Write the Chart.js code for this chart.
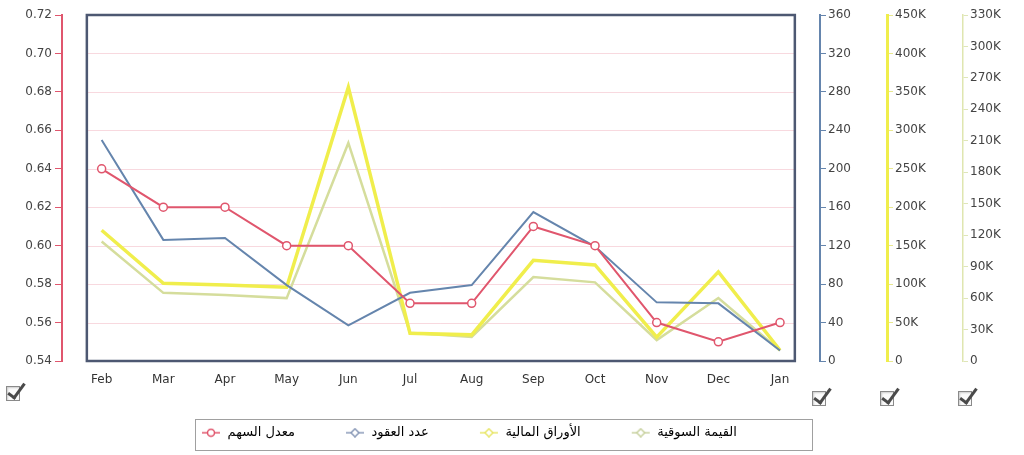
<!DOCTYPE html>
<html lang="ar">
<head>
    <meta charset="UTF-8">
    <title>Stock chart</title>
    <script src="https://cdn.jsdelivr.net/npm/chart.js"></script>
    <style>
        html, body { margin: 0; padding: 0; background: #fff; }
        .wrap { position: relative; width: 1024px; height: 455px; }
        .cb {
            position: absolute; width: 12px; height: 13px;
            border: 1px solid #8a8a8a; background: #fbfbfb;
            box-shadow: inset 1px 1px 2px #ccc;
        }
        .cb::after {
            content: ''; position: absolute; left: 5px; top: -7px;
            width: 6px; height: 16px;
            border-right: 3px solid #4a4a4a; border-bottom: 3px solid #4a4a4a;
            transform: rotate(36deg);
        }
    </style>
</head>
<body>
<div class="wrap">
    <canvas id="chart" width="1024" height="455"></canvas>
    <div class="cb" style="left:6px;top:386px"></div>
    <div class="cb" style="left:812px;top:391px"></div>
    <div class="cb" style="left:880px;top:391px"></div>
    <div class="cb" style="left:958px;top:391px"></div>
</div>
<script>
// data
const months = ['Feb', 'Mar', 'Apr', 'May', 'Jun', 'Jul', 'Aug', 'Sep', 'Oct', 'Nov', 'Dec', 'Jan'];
const shareRate = [0.64, 0.62, 0.62, 0.60, 0.60, 0.57, 0.57, 0.61, 0.60, 0.56, 0.55, 0.56];
const contracts = [230, 126, 128, 79, 37, 71, 79, 155, 119, 61, 60, 11];
const securities = [170000, 101000, 99000, 96000, 356000, 36000, 34000, 131000, 125000, 31000, 116000, 14000];
const marketValue = [114000, 65000, 63000, 60000, 208000, 27000, 23000, 80000, 75000, 20000, 60000, 10000];
const seriesNames = ['معدل السهم', 'عدد العقود', 'الأوراق المالية', 'القيمة السوقية'];

const RED = '#e0566d';
const BLUE = '#6585ad';
const YELLOW = '#f0ee4c';
const PALE = '#d5dd9c';
const FONT = { family: '"DejaVu Sans", sans-serif', size: 12 };
const LEGEND_FONT = { family: '"DejaVu Sans", sans-serif', size: 13 };
const LEGEND_GAP = 50;

function toPoints(arr) {
    return arr.map((v, i) => ({ x: i, y: v }));
}

// small legend marker: a short line with a point on it
function marker(color, shape) {
    const c = document.createElement('canvas');
    c.width = 20; c.height = 10;
    const g = c.getContext('2d');
    g.strokeStyle = color; g.lineWidth = 1.5;
    g.beginPath(); g.moveTo(1, 5); g.lineTo(19, 5); g.stroke();
    g.fillStyle = '#fff';
    g.beginPath();
    if (shape === 'circle') {
        g.arc(10, 5, 3.5, 0, Math.PI * 2);
    } else {
        g.moveTo(10, 1); g.lineTo(14, 5); g.lineTo(10, 9); g.lineTo(6, 5); g.closePath();
    }
    g.fill(); g.stroke();
    return c;
}
const markers = [marker(RED, 'circle'), marker('#8a9ab8', 'diamond'), marker('#e8e66a', 'diamond'), marker('#c9d2a0', 'diamond')];

function fixWidth(w) {
    return scale => { scale.width = w; };
}

const framePlugin = {
    id: 'frame',
    beforeInit(chart) {
        const fit = chart.legend.fit;
        chart.legend.fit = function () {
            fit.bind(chart.legend)();
            this.height = 64;
        };
    },
    afterLayout(chart) {
        // put the legend row in its framed box
        chart.legend.top = 434 - LEGEND_FONT.size * 0.6 - LEGEND_GAP;
        chart.legend.left = 201 - LEGEND_GAP;
    },
    beforeDraw(chart) {
        const ctx = chart.ctx;
        ctx.save();
        ctx.fillStyle = '#fff';
        ctx.fillRect(195, 419, 617, 31);
        ctx.strokeStyle = '#a0a0a0';
        ctx.lineWidth = 1;
        ctx.strokeRect(195.5, 419.5, 617, 31);
        ctx.restore();
    },
    beforeDatasetsDraw(chart) {
        const { ctx, chartArea, scales } = chart;
        const left = scales.x.getPixelForValue(-0.24);
        const right = scales.x.getPixelForValue(11.24);
        ctx.save();
        ctx.strokeStyle = 'rgba(240, 170, 185, 0.45)';
        ctx.lineWidth = 1;
        scales.yRate.ticks.forEach(t => {
            const y = Math.round(scales.yRate.getPixelForValue(t.value)) + 0.5;
            ctx.beginPath(); ctx.moveTo(left, y); ctx.lineTo(right, y); ctx.stroke();
        });
        ctx.strokeStyle = '#4d5872';
        ctx.lineWidth = 2.5;
        ctx.strokeRect(left, chartArea.top, right - left, chartArea.bottom - chartArea.top);
        ctx.restore();
    }
};

new Chart(document.getElementById('chart'), {
    type: 'line',
    data: {
        datasets: [
            {
                label: seriesNames[0], data: toPoints(shareRate), yAxisID: 'yRate',
                borderColor: RED, borderWidth: 2, pointRadius: 4, pointBorderWidth: 1.5,
                pointBackgroundColor: '#fff', pointBorderColor: RED, pointStyle: 'circle'
            },
            {
                label: seriesNames[1], data: toPoints(contracts), yAxisID: 'yCount',
                borderColor: BLUE, borderWidth: 2, pointRadius: 0
            },
            {
                label: seriesNames[2], data: toPoints(securities), yAxisID: 'ySec',
                borderColor: YELLOW, borderWidth: 3.5, pointRadius: 0
            },
            {
                label: seriesNames[3], data: toPoints(marketValue), yAxisID: 'yMkt',
                borderColor: PALE, borderWidth: 2.5, pointRadius: 0
            }
        ]
    },
    options: {
        responsive: false,
        animation: false,
        tension: 0,
        layout: { padding: { top: 15, bottom: 0, left: 0, right: 0 } },
        plugins: {
            tooltip: { enabled: false },
            legend: {
                position: 'bottom',
                align: 'start',
                labels: {
                    usePointStyle: true,
                    pointStyleWidth: 20,
                    padding: LEGEND_GAP,
                    color: '#333',
                    font: LEGEND_FONT,
                    generateLabels(chart) {
                        return chart.data.datasets.map((ds, i) => ({
                            text: ds.label, pointStyle: markers[i], datasetIndex: i,
                            fillStyle: '#fff', strokeStyle: ds.borderColor, lineWidth: 0, hidden: false
                        }));
                    }
                }
            }
        },
        scales: {
            x: {
                type: 'linear',
                min: -0.643,
                max: 11.648,
                afterBuildTicks: scale => { scale.ticks = months.map((m, i) => ({ value: i })); },
                afterFit: scale => { scale.height = 30; },
                grid: { display: false },
                border: { display: false },
                ticks: {
                    autoSkip: false, maxRotation: 0, padding: 4,
                    color: '#333', font: FONT,
                    callback: v => months[v]
                }
            },
            yRate: {
                position: 'left',
                min: 0.54, max: 0.72,
                afterFit: fixWidth(62),
                grid: { drawOnChartArea: false, color: RED, tickLength: 7 },
                border: { color: RED, width: 2 },
                ticks: { stepSize: 0.02, padding: 3, color: '#444', font: FONT, callback: v => v.toFixed(2) }
            },
            yCount: {
                position: 'right',
                min: 0, max: 360,
                afterFit: fixWidth(67),
                grid: { drawOnChartArea: false, color: BLUE, tickLength: 6 },
                border: { color: BLUE, width: 2 },
                ticks: { stepSize: 40, padding: 2, color: '#444', font: FONT }
            },
            ySec: {
                position: 'right',
                min: 0, max: 450000,
                afterFit: fixWidth(76),
                grid: { drawOnChartArea: false, color: '#e8e890', tickLength: 6 },
                border: { color: YELLOW, width: 3 },
                ticks: { stepSize: 50000, padding: 2, color: '#444', font: FONT, callback: v => v === 0 ? '0' : (v / 1000) + 'K' }
            },
            yMkt: {
                position: 'right',
                min: 0, max: 330000,
                afterFit: fixWidth(61),
                grid: { drawOnChartArea: false, color: '#dfe6b8', tickLength: 5 },
                border: { color: '#dfe6b0', width: 1.5 },
                ticks: { stepSize: 30000, padding: 2, color: '#444', font: FONT, callback: v => v === 0 ? '0' : (v / 1000) + 'K' }
            }
        }
    },
    plugins: [framePlugin]
});
</script>
</body>
</html>
